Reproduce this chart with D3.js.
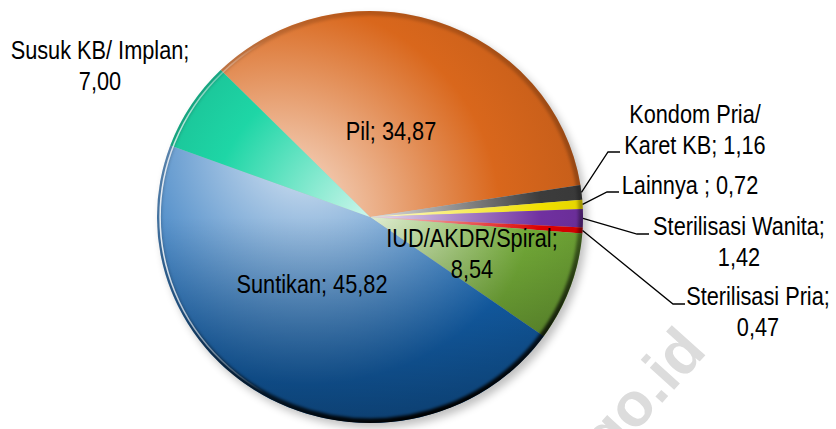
<!DOCTYPE html>
<html>
<head>
<meta charset="utf-8">
<script src="https://cdn.jsdelivr.net/npm/d3@7"></script>
<style>
  body { margin: 0; background: #fff; }
  svg { display: block; }
  text { font-family: "Liberation Sans", Arial, sans-serif; }
</style>
</head>
<body>
<svg id="chart" width="836" height="429"></svg>
<script>
// --- data (percent of users by contraceptive method) ---
const categories = ["Pil", "Kondom Pria/ Karet KB", "Lainnya ", "Sterilisasi Wanita",
  "Sterilisasi Pria", "IUD/AKDR/Spiral", "Suntikan", "Susuk KB/ Implan"];
const values = [34.87, 1.16, 0.72, 1.42, 0.47, 8.54, 45.82, 7.00];

// --- styles ---
const baseColors = ["#d9671c", "#3c3c3c", "#f2e000", "#7030a0", "#e00000", "#74ac38", "#1466b6", "#1ed6a6"];
// gradient centre offset + radius per slice (local pie coords)
const gradStyle = [
  { gx: -90, gy: 0, gr: 300 },
  { gx: 0, gy: 0, gr: 230 },
  { gx: 0, gy: 0, gr: 230 },
  { gx: 0, gy: 0, gr: 230 },
  { gx: 0, gy: 0, gr: 230 },
  { gx: -10, gy: -10, gr: 230 },
  { gx: -60, gy: -70, gr: 330 },
  { gx: 10, gy: 10, gr: 230 }
];

// label layout: anchor-middle x, first baseline y, where to break, leader elbow
const labelLayout = [
  { x: 391, y: 140, split: null },
  { x: 695, y: 123, split: "/ ", elbow: [608, 152] },
  { x: 690, y: 194, split: null, elbow: [607, 192] },
  { x: 739, y: 235, split: "; ", elbow: [637, 234] },
  { x: 758, y: 305, split: "; ", elbow: [673, 304] },
  { x: 472, y: 247, split: "; " },
  { x: 312, y: 293, split: null },
  { x: 100, y: 59, split: "; " }
];

const width = 836, height = 429;
const cx = 370, cy = 217, R = 206, sx = 213 / 206;
const startDeg = -44.5;
const lineH = 31;
const narrow = 0.82; // condensed look of the original font

const svg = d3.select('#chart');
const defs = svg.append('defs');

const fmt = v => d3.format('.2f')(v).replace('.', ',');

// pie layout
const pie = d3.pie()
  .sort(null)
  .value(d => d)
  .startAngle(startDeg * Math.PI / 180)
  .endAngle(startDeg * Math.PI / 180 + 2 * Math.PI);
const arcs = pie(values);
const arc = d3.arc().innerRadius(0).outerRadius(R);

// gradients per slice
baseColors.forEach((c, i) => {
  const gs = gradStyle[i];
  const g = defs.append('radialGradient')
    .attr('id', 'grad' + i)
    .attr('gradientUnits', 'userSpaceOnUse')
    .attr('cx', gs.gx).attr('cy', gs.gy).attr('r', gs.gr);
  const toWhite = d3.interpolateRgb(c, '#ffffff');
  g.append('stop').attr('offset', 0).attr('stop-color', toWhite(0.85));
  g.append('stop').attr('offset', 0.3).attr('stop-color', toWhite(0.5));
  g.append('stop').attr('offset', 0.72).attr('stop-color', c);
  g.append('stop').attr('offset', 1).attr('stop-color', d3.color(c).darker(0.25));
});

// shading overlay (dark toward bottom)
const shade = defs.append('linearGradient').attr('id', 'shade')
  .attr('x1', 0).attr('y1', 0).attr('x2', 0).attr('y2', 1);
shade.append('stop').attr('offset', 0.5).attr('stop-color', '#000').attr('stop-opacity', 0);
shade.append('stop').attr('offset', 1).attr('stop-color', '#000').attr('stop-opacity', 0.35);

const rimGrad = defs.append('linearGradient').attr('id', 'rim')
  .attr('x1', 0.3).attr('y1', 0).attr('x2', 0.6).attr('y2', 1);
rimGrad.append('stop').attr('offset', 0).attr('stop-color', '#000').attr('stop-opacity', 0.15);
rimGrad.append('stop').attr('offset', 0.6).attr('stop-color', '#000').attr('stop-opacity', 0.25);
rimGrad.append('stop').attr('offset', 1).attr('stop-color', '#000').attr('stop-opacity', 1);

const hiGrad = defs.append('linearGradient').attr('id', 'hilite')
  .attr('x1', 0).attr('y1', 0).attr('x2', 1).attr('y2', 0);
hiGrad.append('stop').attr('offset', 0).attr('stop-color', '#fff').attr('stop-opacity', 0.85);
hiGrad.append('stop').attr('offset', 0.25).attr('stop-color', '#fff').attr('stop-opacity', 0);

defs.append('filter').attr('id', 'blur').attr('x', -0.2).attr('y', -0.2).attr('width', 1.4).attr('height', 1.4)
  .append('feGaussianBlur').attr('stdDeviation', 4);
defs.append('filter').attr('id', 'blur2').append('feGaussianBlur').attr('stdDeviation', 1.6);

defs.append('clipPath').attr('id', 'pieClip')
  .append('circle').attr('r', R);

// watermark
svg.append('text')
  .attr('transform', 'translate(708,352) rotate(-48)')
  .attr('text-anchor', 'end')
  .attr('font-size', 62)
  .attr('font-weight', 'bold')
  .attr('fill', '#dcdcdc')
  .text('go.id');

// shadow
svg.append('ellipse')
  .attr('cx', cx + 4).attr('cy', cy + 5)
  .attr('rx', R * sx).attr('ry', R)
  .attr('fill', '#000').attr('opacity', 0.25)
  .attr('filter', 'url(#blur)');

const g = svg.append('g').attr('transform', `translate(${cx},${cy}) scale(${sx},1)`);

g.selectAll('path.slice')
  .data(arcs)
  .join('path')
  .attr('class', 'slice')
  .attr('d', arc)
  .attr('fill', (d, i) => `url(#grad${i})`);

const rimG = g.append('g').attr('clip-path', 'url(#pieClip)');
rimG.append('circle').attr('r', R).attr('fill', 'url(#shade)');
rimG.append('circle').attr('r', R).attr('fill', 'none')
  .attr('stroke', 'url(#rim)').attr('stroke-width', 9).attr('filter', 'url(#blur2)');
rimG.append('circle').attr('r', R - 3).attr('fill', 'none')
  .attr('stroke', 'url(#hilite)').attr('stroke-width', 1.5);

// labels
const labels = svg.append('g').attr('font-size', 26.5).attr('fill', '#000');

arcs.forEach((a, i) => {
  const lay = labelLayout[i];
  const full = categories[i] + '; ' + fmt(values[i]);
  let lines = [full];
  if (lay.split) {
    const k = full.indexOf(lay.split) + lay.split.length;
    lines = [full.slice(0, k).trim(), full.slice(k)];
  }
  const t = labels.append('text')
    .attr('text-anchor', 'middle')
    .attr('transform', `translate(${lay.x},0) scale(${narrow},1)`);
  lines.forEach((ln, j) => {
    t.append('tspan').attr('x', 0).attr('y', lay.y + j * lineH).text(ln);
  });

  if (lay.elbow) {
    const mid = (a.startAngle + a.endAngle) / 2;
    const x0 = cx + sx * R * Math.sin(mid);
    const y0 = cy - R * Math.cos(mid);
    const [ex, ey] = lay.elbow;
    svg.append('path')
      .attr('d', d3.line()([[x0, y0], [ex, ey], [ex + 12, ey]]))
      .attr('fill', 'none')
      .attr('stroke', '#000')
      .attr('stroke-width', 1.3);
  }
});
</script>
</body>
</html>
